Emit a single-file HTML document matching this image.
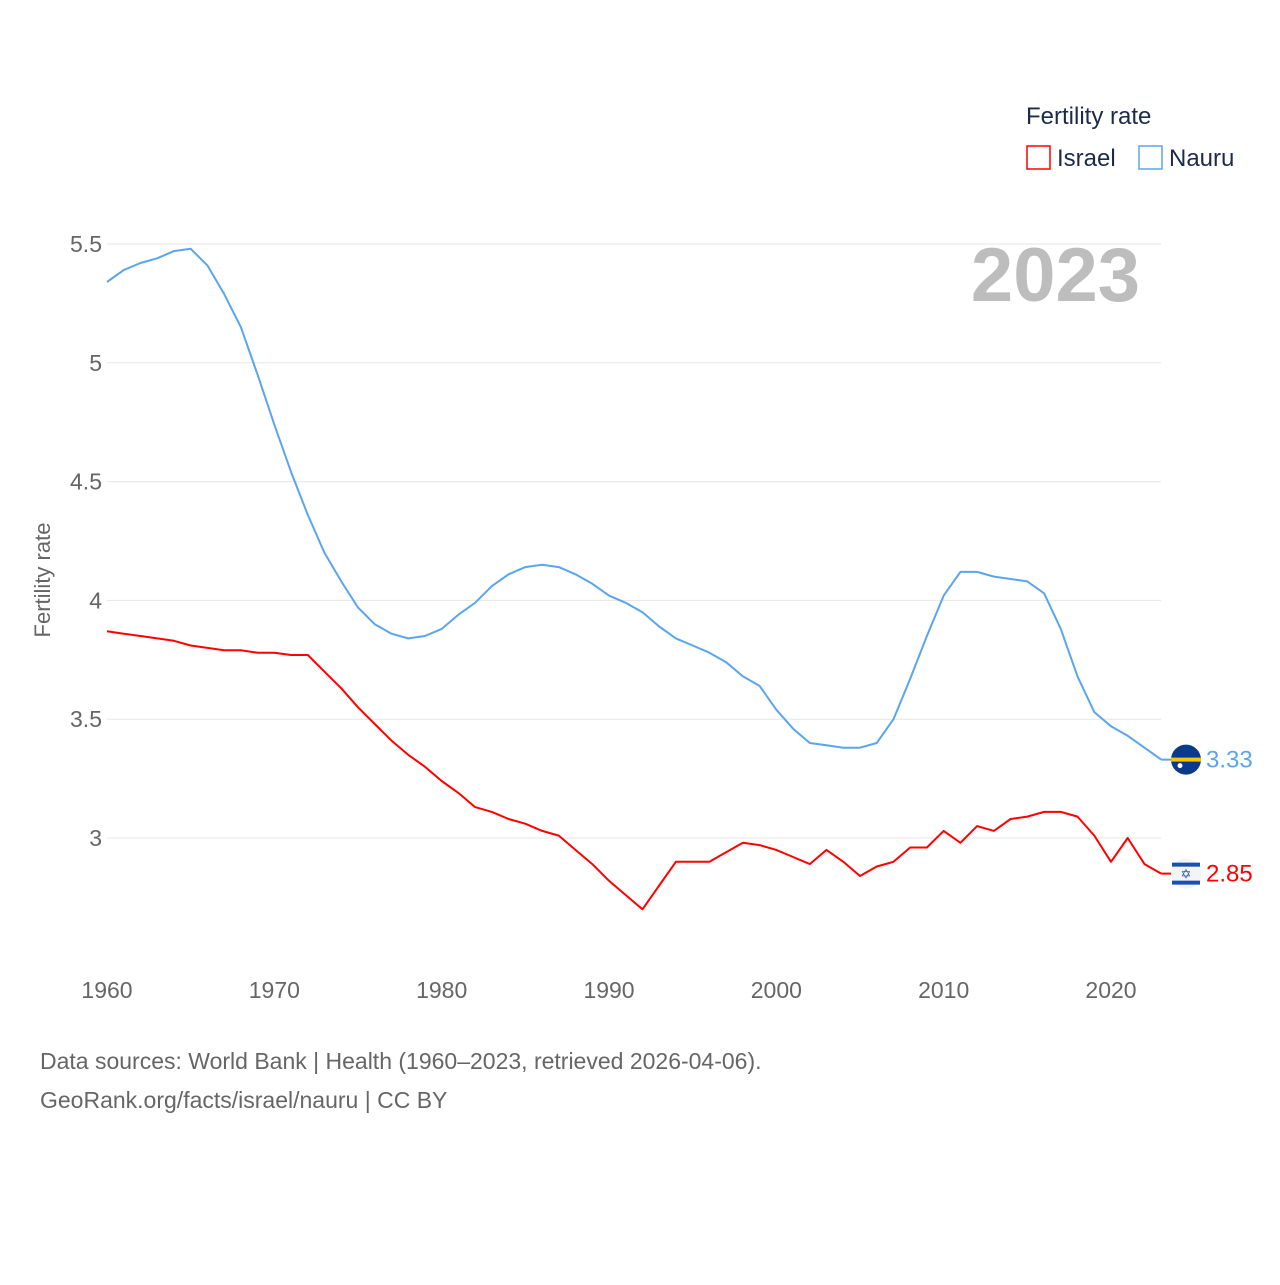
<!DOCTYPE html>
<html><head><meta charset="utf-8"><style>
body{margin:0;background:#fff;font-family:"Liberation Sans",sans-serif;}
svg text{font-family:"Liberation Sans",sans-serif;}
</style></head><body>
<svg id="chart" width="1280" height="1280">
<text x="1026" y="124" font-size="24" fill="#1d2b4a">Fertility rate</text>
<g><rect x="1027" y="146" width="23" height="23" fill="none" stroke="#ff0000" stroke-width="1.5"/><text x="1057" y="166" font-size="24" fill="#1d2b4a">Israel</text></g>
<g><rect x="1139" y="146" width="23" height="23" fill="none" stroke="#5aa5ee" stroke-width="1.5"/><text x="1169" y="166" font-size="24" fill="#1d2b4a">Nauru</text></g>
<text x="1140" y="301" font-size="76" font-weight="bold" fill="#bdbdbd" text-anchor="end">2023</text>
<text transform="translate(50,580) rotate(-90)" font-size="22" fill="#666" text-anchor="middle">Fertility rate</text>
<g id="grid"></g><g id="series"></g>
<text x="40" y="1069" font-size="23" fill="#666">Data sources: World Bank | Health (1960–2023, retrieved 2026-04-06).</text>
<text x="40" y="1108" font-size="23" fill="#666">GeoRank.org/facts/israel/nauru | CC BY</text>
</svg>
<script>
const yTicks=[3,3.5,4,4.5,5,5.5];
const xTicks=[1960,1970,1980,1990,2000,2010,2020];
const startYear=1960;
const nauru=[5.34,5.39,5.42,5.44,5.47,5.48,5.41,5.29,5.15,4.95,4.74,4.54,4.36,4.20,4.08,3.97,3.90,3.86,3.84,3.85,3.88,3.94,3.99,4.06,4.11,4.14,4.15,4.14,4.11,4.07,4.02,3.99,3.95,3.89,3.84,3.81,3.78,3.74,3.68,3.64,3.54,3.46,3.40,3.39,3.38,3.38,3.40,3.50,3.67,3.85,4.02,4.12,4.12,4.10,4.09,4.08,4.03,3.88,3.68,3.53,3.47,3.43,3.38,3.33];
const israel=[3.87,3.86,3.85,3.84,3.83,3.81,3.80,3.79,3.79,3.78,3.78,3.77,3.77,3.70,3.63,3.55,3.48,3.41,3.35,3.30,3.24,3.19,3.13,3.11,3.08,3.06,3.03,3.01,2.95,2.89,2.82,2.76,2.70,2.80,2.90,2.90,2.90,2.94,2.98,2.97,2.95,2.92,2.89,2.95,2.90,2.84,2.88,2.90,2.96,2.96,3.03,2.98,3.05,3.03,3.08,3.09,3.11,3.11,3.09,3.01,2.90,3.00,2.89,2.85];
const NS="http://www.w3.org/2000/svg";
const X=yr=>107+(yr-1960)*(1111-107)/60;
const Y=v=>838-(v-3)*237.6;
function mk(t,a,p){const e=document.createElementNS(NS,t);for(const k in a)e.setAttribute(k,a[k]);p.appendChild(e);return e;}
const grid=document.getElementById('grid'),ser=document.getElementById('series');
yTicks.forEach(v=>{
 const l=mk('line',{x1:107,x2:1161,y1:Y(v),y2:Y(v),stroke:'#e6e6e6','stroke-width':1},grid);
 
 
 const t=mk('text',{x:102,y:Y(v)+8,'font-size':23,fill:'#666','text-anchor':'end'},grid);t.textContent=String(v);
 
 
});
xTicks.forEach(yr=>{
 const t=mk('text',{x:X(yr),y:998,'font-size':23,fill:'#666','text-anchor':'middle'},grid);t.textContent=yr;
 
 
});
function line(d,c,name){
 const pts=d.map((v,i)=>X(startYear+i).toFixed(1)+','+Y(v).toFixed(1)).join(' ');
 const p=mk('polyline',{points:pts,fill:'none',stroke:c,'stroke-width':2,'stroke-linejoin':'round'},ser);
 
 
 const last=d[d.length-1],lx=X(startYear+d.length-1),ly=Y(last);
 mk('line',{x1:lx,x2:lx+25,y1:ly,y2:ly,stroke:c,'stroke-width':2},ser);
 const t=mk('text',{x:1206,y:ly+8,'font-size':24,fill:c},ser);t.textContent=last.toFixed(2);
 
 
}
line(israel,'#ff0000','israel');
line(nauru,'#5aa5ee','nauru');
let ly=Y(nauru[nauru.length-1]);
let g=mk('g',{},ser);
mk('circle',{cx:1186,cy:ly,r:15,fill:'#0a3a8c'},g);
mk('rect',{x:1171,y:ly-2,width:30,height:4,fill:'#f5c400'},g);
mk('circle',{cx:1180,cy:ly+6,r:2.5,fill:'#fff'},g);
ly=Y(israel[israel.length-1]);
g=mk('g',{},ser);
mk('circle',{cx:1186,cy:ly,r:15,fill:'#f4f4f4'},g);
mk('rect',{x:1172,y:ly-11,width:28,height:4,fill:'#1a4fb5'},g);
mk('rect',{x:1172,y:ly+7,width:28,height:4,fill:'#1a4fb5'},g);
const s=mk('text',{x:1186,y:ly+5,'font-size':13,fill:'#1a4fb5','text-anchor':'middle'},g);s.textContent='✡';
</script>
</body></html>
